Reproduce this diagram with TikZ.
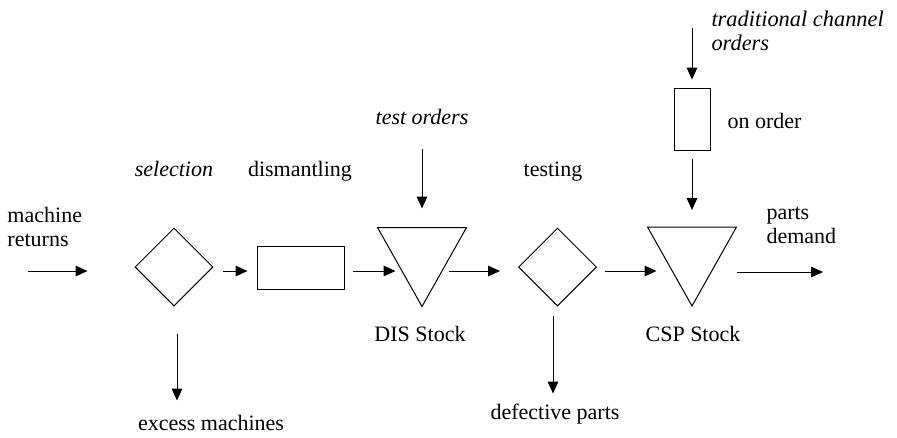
\documentclass[tikz,border=0pt]{standalone}
\usepackage{fontspec}
\setmainfont{Liberation Serif}
\usetikzlibrary{arrows.meta,shapes.geometric,calc}

\begin{document}
\begin{tikzpicture}[
  x=0.75pt, y=-0.75pt,
  line width=0.75pt,
  every node/.style={font=\fontsize{16.5}{18}\selectfont, inner sep=0pt},
  flow/.style={-{Triangle[length=9pt,width=8pt]}},
  decision/.style={diamond, draw, minimum width=58.5pt, minimum height=58.5pt},
  activity/.style={rectangle, draw},
  stockbox/.style={rectangle, minimum width=66pt, minimum height=58.5pt},
  lbl/.style={anchor=base},
  ilbl/.style={anchor=base, font=\fontsize{16.5}{18}\selectfont\itshape},
]
\useasboundingbox (0,0) rectangle (897,437);

% process shapes
\node[decision] (d1) at (174,267) {};
\node[activity, minimum width=65.25pt, minimum height=32.25pt] (r1) at (300.5,267.5) {};
\node[stockbox] (t1) at (422,267) {};
\node[decision] (d2) at (557.5,267) {};
\node[stockbox] (t2) at (692,266.5) {};
\node[activity, minimum width=27pt, minimum height=46.5pt] (oo) at (692,119) {};

% stock triangles drawn on their frame nodes
\draw (t1.north west) -- (t1.north east) -- (t1.south) -- cycle;
\draw (t2.north west) -- (t2.north east) -- (t2.south) -- cycle;

% labels
\node[anchor=north west, align=left] (mr) at (7,207) {machine\\returns};
\node[anchor=north west, align=left] (pd) at (766,207) {parts\\demand};
\node[anchor=north west, align=left, font=\fontsize{16.8}{18}\selectfont\itshape] (tc) at (711,10) {traditional channel\\orders};
\node[ilbl] (sel) at (174,176) {selection};
\node[lbl] (dis) at (300,176) {dismantling};
\node[lbl] (tst) at (553,176) {testing};
\node[ilbl] (tord) at (422,124) {test orders};
\node[anchor=base west] (ono) at (727,128) {on order};
\node[lbl] (diss) at (420,341) {DIS Stock};
\node[lbl] (csps) at (693,341) {CSP Stock};
\node[lbl] (exm) at (211,430) {excess machines};
\node[lbl] (dfp) at (555,419) {defective parts};

% free ends of the open flows
\coordinate (in1) at (28,271);
\coordinate (out1) at (823,272);
\coordinate (tcin) at (692,28);

% material flows
\draw[flow] (in1) -- ($(d1.west)+(-47,4)$);
\draw[flow] ($(d1.east)+(9,4)$) -- ($(r1.west)+(-9,3.5)$);
\draw[flow] ($(r1.east)+(8,3.5)$) -- ($(t1.west)+(18,4)$);
\draw[flow] ($(t1.east)+(-18,4)$) -- ($(d2.west)+(-18,4)$);
\draw[flow] ($(d2.east)+(8,4)$) -- ($(t2.west)+(9,4.5)$);
\draw[flow] ($(t2.east)+(0,5.5)$) -- (out1);

% order flows
\draw[flow] ($(t1.north)+(0,-79)$) -- ($(t1.north)+(0,-19)$);
\draw[flow] (tcin) -- ($(oo.north)+(0,-8)$);
\draw[flow] ($(oo.south)+(0,8)$) -- ($(t2.north)+(0,-17)$);

% outflows
\draw[flow] ($(d1.south)+(3,27)$) -- ($(d1.south)+(3,94)$);
\draw[flow] ($(d2.south)+(-4.5,9)$) -- ($(d2.south)+(-4.5,87)$);
\end{tikzpicture}
\end{document}
